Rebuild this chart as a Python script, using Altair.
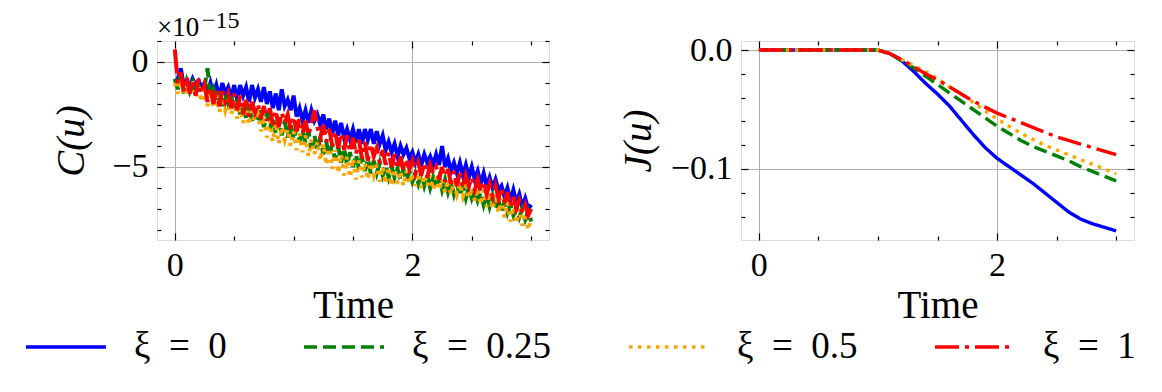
import altair as alt
import pandas as pd

SERIES = ["ξ\u2002=\u20020", "ξ\u2002=\u20020.25", "ξ\u2002=\u20020.5", "ξ\u2002=\u20021"]
COLORS = ["#0000ff", "#008000", "#ffa500", "#ff0000"]
DASHES = [[1, 0], [13, 6], [3.5, 5.5], [24, 6, 4, 6]]

# ---- left panel: C(u), values in units of 1e-15 ----
T_C = [0.000, 0.025, 0.050, 0.075, 0.100, 0.125, 0.150, 0.175, 0.200, 0.225, 0.250,
       0.275, 0.300, 0.325, 0.350, 0.375, 0.400, 0.425, 0.450, 0.475, 0.500,
       0.525, 0.550, 0.575, 0.600, 0.625, 0.650, 0.675, 0.700, 0.725, 0.750,
       0.775, 0.800, 0.825, 0.850, 0.875, 0.900, 0.925, 0.950, 0.975, 1.000,
       1.025, 1.050, 1.075, 1.100, 1.125, 1.150, 1.175, 1.200, 1.225, 1.250,
       1.275, 1.300, 1.325, 1.350, 1.375, 1.400, 1.425, 1.450, 1.475, 1.500,
       1.525, 1.550, 1.575, 1.600, 1.625, 1.650, 1.675, 1.700, 1.725, 1.750,
       1.775, 1.800, 1.825, 1.850, 1.875, 1.900, 1.925, 1.950, 1.975, 2.000,
       2.025, 2.050, 2.075, 2.100, 2.125, 2.150, 2.175, 2.200, 2.225, 2.250,
       2.275, 2.300, 2.325, 2.350, 2.375, 2.400, 2.425, 2.450, 2.475, 2.500,
       2.525, 2.550, 2.575, 2.600, 2.625, 2.650, 2.675, 2.700, 2.725, 2.750,
       2.775, 2.800, 2.825, 2.850, 2.875, 2.900, 2.925, 2.950, 2.975, 3.000]
C_XI0 = [-1.0, -0.8, -0.3, -1.1, -0.9, -1.2, -0.8, -1.1, -0.9, -1.2, -1.0,
         -1.5, -1.0, -1.6, -1.1, -1.7, -1.0, -1.5, -1.2, -1.7, -1.1,
         -1.8, -1.1, -1.6, -1.2, -1.9, -1.1, -1.7, -1.3, -1.9, -1.2,
         -2.0, -1.4, -2.2, -1.5, -2.3, -1.3, -2.1, -1.8, -2.3, -1.6,
         -2.6, -2.2, -2.8, -2.3, -2.9, -2.3, -2.8, -2.5, -3.0, -2.5,
         -3.2, -2.7, -3.4, -2.8, -3.5, -2.9, -3.6, -3.2, -3.7, -3.2,
         -3.8, -3.2, -3.9, -3.2, -3.7, -3.2, -3.9, -3.3, -3.9, -3.5,
         -4.2, -3.8, -4.3, -3.9, -4.5, -4.0, -4.4, -4.1, -4.6, -4.3,
         -4.8, -4.4, -4.9, -4.4, -4.8, -4.5, -4.9, -4.4, -4.9, -4.0,
         -5.0, -4.6, -5.2, -4.8, -5.3, -4.8, -5.4, -4.9, -5.5, -5.0,
         -5.6, -5.2, -5.8, -5.3, -5.9, -5.5, -6.0, -5.6, -6.1, -5.9,
         -6.4, -6.0, -6.6, -6.1, -6.7, -6.3, -6.9, -6.5, -7.0, -6.8]
C_XI025 = [-0.8, -1.3, -0.6, -1.5, -0.9, -1.4, -1.0, -1.6, -1.1, -1.5, -1.2,
           -0.3, -1.7, -1.3, -1.9, -1.4, -2.1, -1.5, -2.0, -1.6, -2.3,
           -1.8, -2.5, -1.9, -2.7, -2.0, -2.8, -2.2, -2.9, -2.3, -3.1,
           -2.4, -3.2, -2.6, -3.4, -2.7, -3.5, -2.8, -3.6, -2.9, -3.7,
           -3.1, -3.8, -3.2, -3.9, -3.3, -4.1, -3.5, -4.2, -3.6, -4.4,
           -3.8, -4.5, -3.9, -4.7, -4.0, -4.8, -4.1, -4.9, -4.3, -5.0,
           -4.4, -5.1, -4.5, -5.2, -4.6, -5.3, -4.7, -5.3, -4.8, -5.4,
           -4.9, -5.5, -5.0, -5.5, -5.1, -5.6, -5.1, -5.7, -5.2, -5.7,
           -5.3, -5.8, -5.3, -5.9, -5.4, -6.0, -5.5, -6.0, -5.5, -6.1,
           -5.6, -6.2, -5.7, -6.3, -5.8, -6.4, -5.9, -6.5, -6.0, -6.5,
           -6.1, -6.6, -6.2, -6.8, -6.3, -6.9, -6.4, -7.0, -6.6, -7.1,
           -6.7, -7.2, -6.8, -7.3, -6.9, -7.4, -7.0, -7.5, -7.1, -7.6]
C_XI05 = [-1.0, -1.5, -0.8, -1.6, -1.1, -1.4, -0.9, -1.7, -1.2, -1.9, -1.3,
          -2.1, -1.4, -2.2, -1.6, -2.4, -1.7, -2.3, -1.8, -2.5, -1.9,
          -2.7, -2.0, -2.9, -2.2, -3.0, -2.3, -2.8, -2.5, -3.3, -2.6,
          -3.6, -2.8, -3.8, -2.9, -3.9, -3.1, -3.7, -3.2, -4.0, -3.3,
          -4.2, -3.4, -4.3, -3.5, -4.5, -3.7, -4.4, -3.8, -4.7, -3.9,
          -4.9, -4.1, -5.1, -4.2, -5.3, -4.4, -5.4, -4.5, -5.5, -4.6,
          -5.6, -4.7, -5.5, -4.8, -5.6, -4.8, -5.4, -4.9, -5.7, -5.0,
          -5.8, -5.0, -5.9, -5.1, -5.8, -5.2, -5.9, -5.2, -5.8, -5.3,
          -5.9, -5.3, -6.0, -5.4, -5.9, -5.4, -6.1, -5.5, -6.1, -5.6,
          -6.2, -5.6, -6.3, -5.7, -6.3, -5.8, -6.4, -5.9, -6.5, -6.0,
          -6.6, -6.0, -6.8, -6.1, -6.9, -6.2, -7.0, -6.3, -7.2, -6.5,
          -7.4, -6.7, -7.6, -6.9, -7.7, -7.0, -7.8, -7.2, -8.0, -7.4]
C_XI1 = [0.6, -1.0, -0.5, -1.4, -0.7, -1.5, -0.9, -1.6, -0.8, -1.5, -1.1,
         -1.9, -1.2, -2.0, -1.3, -2.1, -1.4, -1.9, -1.5, -2.2, -1.5,
         -2.3, -1.6, -2.5, -1.8, -2.6, -1.9, -2.4, -2.0, -2.7, -2.1,
         -2.8, -2.2, -3.0, -2.3, -3.1, -2.4, -2.9, -2.5, -3.2, -2.6,
         -3.3, -2.7, -3.4, -2.8, -3.5, -2.9, -2.3, -3.1, -3.6, -3.0,
         -3.8, -3.2, -4.0, -3.3, -4.1, -3.4, -4.2, -3.5, -4.3, -3.6,
         -4.4, -3.7, -4.6, -3.8, -4.7, -3.9, -4.5, -4.1, -4.8, -4.2,
         -4.9, -4.3, -5.0, -4.4, -5.1, -4.5, -5.2, -4.6, -5.1, -4.7,
         -5.3, -4.8, -5.4, -4.8, -5.5, -4.9, -5.3, -5.0, -5.6, -5.0,
         -5.7, -5.1, -5.8, -5.2, -5.9, -5.3, -6.0, -5.4, -5.9, -5.5,
         -6.1, -5.6, -6.2, -5.7, -6.3, -5.8, -6.4, -5.9, -6.5, -6.0,
         -6.7, -6.2, -6.9, -6.4, -7.0, -6.6, -7.2, -6.8, -7.3, -7.0]

# ---- right panel: J(u) ----
T_J = [0.0, 0.1, 0.2, 0.3, 0.4, 0.5, 0.6, 0.7, 0.8, 0.9, 1.0,
       1.1, 1.2, 1.3, 1.4, 1.5, 1.6, 1.7, 1.8, 1.9, 2.0,
       2.1, 2.2, 2.3, 2.4, 2.5, 2.6, 2.7, 2.8, 2.9, 3.0]
J_XI0 = [0, 0, 0, 0, 0, 0, 0, 0, 0, 0, 0,
         -0.003, -0.009, -0.018, -0.028, -0.037, -0.047, -0.059, -0.071, -0.082, -0.091,
         -0.098, -0.105, -0.112, -0.120, -0.128, -0.136, -0.142, -0.146, -0.149, -0.152]
J_XI025 = [0, 0, 0, 0, 0, 0, 0, 0, 0, 0, 0,
           -0.003, -0.009, -0.015, -0.022, -0.029, -0.036, -0.043, -0.050, -0.057, -0.064,
           -0.070, -0.076, -0.081, -0.085, -0.089, -0.093, -0.098, -0.102, -0.106, -0.110]
J_XI05 = [0, 0, 0, 0, 0, 0, 0, 0, 0, 0, 0,
          -0.003, -0.008, -0.013, -0.018, -0.024, -0.031, -0.037, -0.044, -0.051, -0.058,
          -0.064, -0.070, -0.075, -0.080, -0.084, -0.088, -0.092, -0.096, -0.100, -0.104]
J_XI1 = [0, 0, 0, 0, 0, 0, 0, 0, 0, 0, 0,
         -0.003, -0.008, -0.014, -0.020, -0.025, -0.031, -0.037, -0.043, -0.048, -0.053,
         -0.057, -0.061, -0.065, -0.069, -0.073, -0.076, -0.079, -0.082, -0.085, -0.088]

X_MAJOR = [0, 2]
X_MINOR = [0.5, 1, 1.5, 2.5, 3]
CY_MAJOR = [0, -5]
CY_MINOR = [1, -1, -2, -3, -4, -6, -7, -8]
JY_MAJOR = [0.0, -0.1]
JY_MINOR = [-0.02, -0.04, -0.06, -0.08, -0.12, -0.14]
OFFSET_TEXT = ["×10", "−15"]

FONT = "Liberation Serif"


def long_df(t, cols):
    rows = []
    for name, vals in zip(SERIES, cols):
        for ti, v in zip(t, vals):
            rows.append({"t": ti, "v": v, "xi": name})
    return pd.DataFrame(rows)


dfC = long_df(T_C, [C_XI0, C_XI025, C_XI05, C_XI1])
dfJ = long_df(T_J, [J_XI0, J_XI025, J_XI05, J_XI1])

legend = alt.Legend(
    orient="none", legendX=-133, legendY=264, direction="horizontal",
    columns=4, symbolType="stroke", symbolSize=6400, symbolStrokeWidth=3.5,
    labelFontSize=37, labelFont=FONT, labelOffset=26, columnPadding=70,
    title=None, labelLimit=0,
)


def panel(df, ydomain, ytitle, ymaj, ymin, yfmt, width, tpad, sw):
    xs = alt.Scale(domain=[-0.15, 3.15], nice=False, zero=False)
    ys = alt.Scale(domain=ydomain, nice=False, zero=False)
    common = dict(domain=False, labelFontSize=34, labelFont=FONT,
                  titleFont=FONT, titleFontSize=39, titleFontWeight="normal",
                  tickColor="black", tickWidth=1.2, gridColor="#b0b0b0", gridWidth=1)
    base = alt.Chart(df)
    lines = base.mark_line(strokeWidth=sw, clip=True).encode(
        x=alt.X("t:Q", scale=xs, axis=alt.Axis(
            orient="bottom", values=X_MAJOR, format="d", tickSize=7, offset=-7,
            grid=True, title="Time", labelPadding=8, titlePadding=4, **common)),
        y=alt.Y("v:Q", scale=ys, axis=alt.Axis(
            orient="left", values=ymaj, format=yfmt, tickSize=7, offset=-7,
            grid=True, title=ytitle, titleFontStyle="italic", labelPadding=9,
            titlePadding=tpad, **common)),
        color=alt.Color("xi:N", scale=alt.Scale(domain=SERIES, range=COLORS), legend=legend),
        strokeDash=alt.StrokeDash("xi:N", scale=alt.Scale(domain=SERIES, range=DASHES), legend=legend),
    )

    def ghost(xorient, xvals, yorient, yvals, size):
        return base.mark_point(opacity=0).encode(
            x=alt.X("t:Q", scale=xs, axis=alt.Axis(
                orient=xorient, values=xvals, tickSize=size, offset=-size, labels=False,
                grid=False, title=None, **common)),
            y=alt.Y("v:Q", scale=ys, axis=alt.Axis(
                orient=yorient, values=yvals, tickSize=size, offset=-size, labels=False,
                grid=False, title=None, **common)),
        )

    layers = [lines,
              ghost("bottom", X_MINOR, "left", ymin, 4),
              ghost("top", X_MAJOR, "right", ymaj, 7),
              ghost("top", X_MINOR, "right", ymin, 4)]
    return alt.layer(*layers).resolve_axis(x="independent", y="independent").properties(
        width=width, height=199)


left = panel(dfC, [-8.48, 1.0], "C(u)", CY_MAJOR, CY_MINOR, "d", 392, 20, 4.0)
off1 = alt.Chart(pd.DataFrame({"s": [OFFSET_TEXT[0]]})).mark_text(
    align="left", baseline="alphabetic", fontSize=27, font=FONT).encode(
    x=alt.value(0), y=alt.value(-5), text="s:N")
off2 = alt.Chart(pd.DataFrame({"s": [OFFSET_TEXT[1]]})).mark_text(
    align="left", baseline="alphabetic", fontSize=24, font=FONT).encode(
    x=alt.value(45), y=alt.value(-13), text="s:N")
left = alt.layer(left, off1, off2)

right = panel(dfJ, [-0.1597, 0.0076], "J(u)", JY_MAJOR, JY_MINOR, ".1f", 393, 12, 3.4)

chart = alt.hconcat(left, right, spacing=192, bounds="flush").properties(
    padding={"left": 16, "top": 0, "right": 0, "bottom": 0}
).configure_view(stroke="black", strokeWidth=1.2).configure(font=FONT)

chart.save("out.html", embed_options={"renderer": "svg", "actions": False})
